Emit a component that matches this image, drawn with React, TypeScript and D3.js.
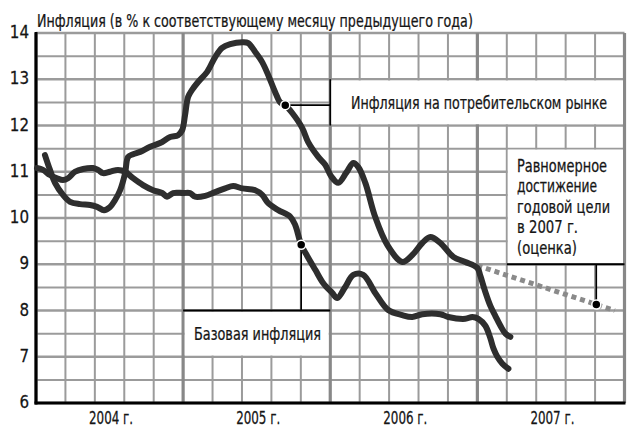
import React, { useLayoutEffect, useRef, useState } from 'react';
import * as d3 from 'd3';

const W = 633;
const H = 435;

const titleText = 'Инфляция (в % к соответствующему месяцу предыдущего года)';
const yearLabels = ['2004 г.', '2005 г.', '2006 г.', '2007 г.'];
const yTicks = [6, 7, 8, 9, 10, 11, 12, 13, 14];
const cpiLabel = 'Инфляция на потребительском рынке';
const coreLabel = 'Базовая инфляция';
const targetLabel = ['Равномерное', 'достижение', 'годовой цели', 'в 2007 г.', '(оценка)'];

// [month since Jan 2004, % y/y]
const cpiSeries: [number, number][] = [
  [0.73, 11.36], [1.14, 11.04], [1.55, 10.76], [2.2, 10.5], [2.78, 10.35], [3.59, 10.3],
  [4.41, 10.28], [4.98, 10.24], [5.55, 10.17], [6.04, 10.24], [6.45, 10.39], [6.86, 10.6],
  [7.27, 10.97], [7.51, 11.32], [7.92, 11.38], [8.49, 11.43], [9.31, 11.54], [10.12, 11.62],
  [10.94, 11.75], [11.59, 11.79], [11.92, 11.9], [12.16, 12.23], [12.41, 12.62], [12.73, 12.77],
  [13.22, 12.94], [13.96, 13.16], [14.61, 13.48], [15.18, 13.68], [15.84, 13.76], [16.9, 13.8],
  [17.31, 13.78], [17.88, 13.59], [18.45, 13.37], [18.94, 13.09], [19.51, 12.72], [19.92, 12.5],
  [20.33, 12.44], [20.9, 12.27], [21.71, 11.95], [22.2, 11.64], [23.02, 11.32], [23.59, 11.15],
  [24.08, 10.9], [24.65, 10.76], [25.31, 10.98], [25.88, 11.19], [26.29, 11.1], [26.86, 10.76],
  [27.67, 10.02], [28.65, 9.42], [29.88, 9.05], [30.69, 9.2], [31.51, 9.46], [32.16, 9.59],
  [32.98, 9.46], [34.04, 9.16], [35.02, 9.05], [36.0, 8.92], [36.24, 8.75], [36.65, 8.4],
  [37.06, 8.1], [37.47, 7.88], [37.88, 7.67], [38.29, 7.5], [38.69, 7.43],
];

const coreSeries: [number, number][] = [
  [0.08, 11.08], [0.57, 11.04], [1.14, 10.93], [1.71, 10.86], [2.2, 10.82], [2.61, 10.86],
  [3.18, 11.0], [3.84, 11.06], [4.65, 11.08], [5.06, 11.04], [5.47, 10.97], [6.04, 11.0],
  [6.69, 11.04], [7.27, 11.0], [7.92, 10.86], [8.73, 10.71], [9.55, 10.6], [10.29, 10.54],
  [10.69, 10.46], [11.18, 10.54], [12.0, 10.54], [12.57, 10.54], [12.98, 10.46], [13.8, 10.48],
  [14.61, 10.56], [15.43, 10.64], [16.08, 10.69], [16.82, 10.64], [17.88, 10.6], [18.45, 10.5],
  [18.94, 10.32], [19.76, 10.17], [20.73, 10.03], [21.14, 9.85], [21.63, 9.42], [22.12, 9.18],
  [22.78, 8.88], [23.43, 8.59], [24.16, 8.38], [24.57, 8.27], [25.22, 8.51], [25.88, 8.77],
  [26.69, 8.77], [27.67, 8.38], [28.73, 8.01], [29.88, 7.9], [30.69, 7.86], [31.51, 7.92],
  [32.98, 7.92], [33.63, 7.86], [35.02, 7.82], [35.59, 7.86], [36.08, 7.82], [36.65, 7.67],
  [37.06, 7.4], [37.31, 7.18], [37.63, 7.0], [38.04, 6.85], [38.53, 6.74],
];

const targetSeries: [number, number][] = [[36, 8.97], [47.2, 8.0]];

const cpiDotMonth = 20.33;
const coreDotMonth = 21.63;
const targetDotMonth = 45.7;

const FONT = "'Liberation Sans Narrow','DejaVu Sans Condensed','Roboto Condensed','Liberation Sans',Arial,sans-serif";

function interp(s: [number, number][], m: number): number {
  for (let i = 0; i < s.length - 1; i++) {
    if (m >= s[i][0] && m <= s[i + 1][0]) {
      const t = (m - s[i][0]) / (s[i + 1][0] - s[i][0]);
      return s[i][1] + t * (s[i + 1][1] - s[i][1]);
    }
  }
  return s[s.length - 1][1];
}

type FitProps = {
  x: number;
  y: number;
  width: number;
  fontSize: number;
  anchor?: 'start' | 'middle' | 'end';
  children: string;
};

function FitText({ x, y, width, fontSize, anchor = 'start', children }: FitProps) {
  const ref = useRef<SVGTextElement>(null);
  const [k, setK] = useState(0.75);
  useLayoutEffect(() => {
    if (ref.current) {
      const w = ref.current.getComputedTextLength();
      if (w > 0) setK(width / w);
    }
  }, [width, children, fontSize]);
  return (
    <text ref={ref} transform={`translate(${x},${y}) scale(${k},1)`} fontSize={fontSize}
      textAnchor={anchor}>{children}</text>
  );
}

export default function App() {
  const x = d3.scaleLinear().domain([0, 48]).range([36, 624.5]);
  const y = d3.scaleLinear().domain([6, 14]).range([403, 33]);
  const line = d3
    .line<[number, number]>()
    .x((d) => x(d[0]))
    .y((d) => y(d[1]))
    .curve(d3.curveCatmullRom.alpha(0.5));

  const vLines = d3.range(0, 21).map((i) => i * 2.4);
  const hLines = d3.range(6, 14.01, 0.5);

  const cpiDot: [number, number] = [x(cpiDotMonth), y(interp(cpiSeries, cpiDotMonth))];
  const coreDot: [number, number] = [x(coreDotMonth), y(interp(coreSeries, coreDotMonth))];
  const targetDot: [number, number] = [x(targetDotMonth), y(interp(targetSeries, targetDotMonth))];

  const gridColor = '#9b9b9b';
  const yearColor = '#888';
  const lineColor = '#2e2e2e';
  const targetLens = [90, 80, 93, 61, 60];

  return (
    <svg width={W} height={H} style={{ position: 'absolute', left: 0, top: 0, display: 'block', background: '#fff' }}>
      <rect x={0} y={0} width={W} height={H} fill="#fff" />
      {/* horizontal grid */}
      {hLines.map((v) => (
        <line key={'h' + v} x1={x(0)} x2={x(48)} y1={y(v)} y2={y(v)} stroke={gridColor}
          strokeWidth={Number.isInteger(v) ? 2.6 : 2} />
      ))}
      {/* vertical grid */}
      {vLines.map((m, i) => (
        <line key={'v' + i} x1={x(m)} x2={x(m)} y1={y(14)} y2={y(6)}
          stroke={i % 5 === 0 ? yearColor : gridColor}
          strokeWidth={i % 5 === 0 ? 3.2 : 2} />
      ))}

      {/* legend boxes */}
      <rect x={x(24) + 1} y={y(13) + 1.3} width={x(48) - x(24) - 2.5} height={y(12) - y(13) - 2.6} fill="#fff" />
      <rect x={x(12) + 1.6} y={y(8) + 1.3} width={x(24) - x(12) - 3.2} height={y(7) - y(8) - 2.6} fill="#fff" />
      <rect x={x(38.4) + 1} y={y(11.5) + 1} width={x(48) - x(38.4) - 2.5} height={y(9) - y(11.5) - 2} fill="#fff" />

      {/* box edges & connectors */}
      <line x1={x(24)} x2={x(24)} y1={y(13)} y2={y(12)} stroke="#000" strokeWidth={1.6} />
      <line x1={cpiDot[0]} x2={x(24)} y1={cpiDot[1]} y2={cpiDot[1]} stroke="#000" strokeWidth={1.6} />
      <line x1={x(12)} x2={x(24)} y1={y(8)} y2={y(8)} stroke="#000" strokeWidth={1.8} />
      <line x1={coreDot[0]} x2={coreDot[0]} y1={coreDot[1]} y2={y(8)} stroke="#000" strokeWidth={1.6} />
      <line x1={x(38.4)} x2={x(48)} y1={y(9)} y2={y(9)} stroke="#000" strokeWidth={1.8} />
      <line x1={targetDot[0]} x2={targetDot[0]} y1={y(9)} y2={targetDot[1]} stroke="#000" strokeWidth={1.6} />

      {/* axes */}
      <line x1={x(0)} x2={x(0)} y1={y(14) - 1} y2={y(6) + 1.5} stroke="#000" strokeWidth={3} />
      <line x1={x(0) - 1.5} x2={x(48) + 1} y1={y(6)} y2={y(6)} stroke="#000" strokeWidth={2.8} />

      {/* target dashed */}
      <path d={line(targetSeries) || ''} fill="none" stroke="#8a8a8a" strokeWidth={5} strokeDasharray="5 4" />

      {/* data lines */}
      <path d={line(coreSeries) || ''} fill="none" stroke={lineColor} strokeWidth={6}
        strokeLinecap="round" strokeLinejoin="round" />
      <path d={line(cpiSeries) || ''} fill="none" stroke={lineColor} strokeWidth={6}
        strokeLinecap="round" strokeLinejoin="round" />

      {/* dots */}
      {[cpiDot, coreDot, targetDot].map((p, i) => (
        <circle key={'d' + i} cx={p[0]} cy={p[1]} r={4.5} fill="#000" stroke="#fff" strokeWidth={1.5} />
      ))}

      {/* texts */}
      <g fontFamily={FONT} fill="#151515" stroke="#151515" strokeWidth={0.25}>
        <FitText x={37} y={27} fontSize={17.5} width={436}>{titleText}</FitText>
        {yTicks.map((t) => {
          const s = String(t);
          return (
            <FitText key={'yt' + t} x={29} y={y(t) + 5} fontSize={18} anchor="end"
              width={s.length * 9.6}>{s}</FitText>
          );
        })}
        {yearLabels.map((lab, i) => (
          <FitText key={'yl' + i} x={(x(i * 12) + x(i * 12 + 12)) / 2 + 1.5} y={424} fontSize={17.5}
            anchor="middle" width={44}>{lab}</FitText>
        ))}
        <FitText x={351} y={108.5} fontSize={18} width={256}>{cpiLabel}</FitText>
        <FitText x={194} y={340} fontSize={18} width={127}>{coreLabel}</FitText>
        {targetLabel.map((s, i) => (
          <FitText key={'tl' + i} x={517} y={172 + i * 20.4} fontSize={18} width={targetLens[i]}>{s}</FitText>
        ))}
      </g>
    </svg>
  );
}
